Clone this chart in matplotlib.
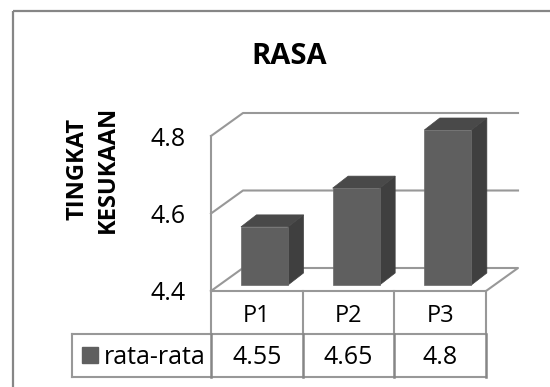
import matplotlib.pyplot as plt
import numpy as np

plt.rcParams['font.family'] = ['Open Sans', 'DejaVu Sans']

categories = ['P1', 'P2', 'P3']
values = [4.55, 4.65, 4.8]
y_ticks = [4.4, 4.6, 4.8]
series_name = 'rata-rata'
title = 'RASA'
y_label = 'TINGKAT\nKESUKAAN'

W, H = 550, 387
X0, X_STEP = 211, 91.67  # pixel of first category edge, pixels per category
Y0, Y_STEP = 291, 387.5  # pixel of the 4.4 line, pixels per unit

fig = plt.figure(figsize=(W / 100, H / 100), dpi=100)
ax = fig.add_axes([0, 0, 1, 1])
ax.set_xlim(-X0 / X_STEP, (W - X0) / X_STEP)
ax.set_ylim(y_ticks[0] - (H - Y0) / Y_STEP, y_ticks[0] + Y0 / Y_STEP)
ax.axis('off')

line_col = '#989898'
n = len(categories)
base = y_ticks[0]
wall_dx, wall_dy = 32 / X_STEP, 23 / Y_STEP

# outer chart frame, runs off the right and bottom of the picture
frame = plt.Rectangle((13 / W, 1 - 11 / H), 1, -1, transform=fig.transFigure,
                      fill=False, ec='#868686', lw=1.6, clip_on=True)
ax.add_patch(frame)

# floor and walls
ax.plot([0, wall_dx, n + wall_dx, n, 0],
        [base, base + wall_dy, base + wall_dy, base, base], color=line_col, lw=1.5, zorder=2)
ax.plot([0, 0], [base, y_ticks[-1]], color=line_col, lw=1.5, zorder=2)
for t in y_ticks[1:]:
    ax.plot([0, wall_dx, n + wall_dx], [t, t + wall_dy, t + wall_dy], color=line_col, lw=1.5, zorder=2)

# 3d bars
bar_x = np.arange(n) + 0.327
bar_w = 0.513
lift = 6 / Y_STEP
dx, dy = 15.5 / X_STEP, 12 / Y_STEP
for i in range(n):
    x1 = bar_x[i]
    x2 = x1 + bar_w
    top = values[i] + lift
    ax.fill([x2, x2 + dx, x2 + dx, x2], [base + lift, base + lift + dy, top + dy, top],
            color='#3f3f3f', lw=0.5, zorder=3)
    ax.fill([x1, x1 + dx, x2 + dx, x2], [top, top + dy, top + dy, top],
            color='#494949', lw=0.5, zorder=3)
ax.bar(bar_x, np.array(values) - base, width=bar_w, bottom=base + lift, align='edge',
       color='#5f5f5f', edgecolor='#6a6a6a', lw=0.5, zorder=4)

ax.text(289 / X_STEP - X0 / X_STEP, base + (Y0 - 57) / Y_STEP, title, fontsize=21, fontweight='bold',
        ha='center', va='center')
ax.text((92.5 - X0) / X_STEP, base + (Y0 - 169) / Y_STEP, y_label, fontsize=17, fontweight='bold',
        rotation=90, ha='center', va='center', multialignment='center', linespacing=1.35)

for t in y_ticks:
    ax.text((186 - X0) / X_STEP, t - 3 / Y_STEP, str(t), fontsize=18, ha='right', va='center')

# data table under the chart
row1 = base - (334 - Y0) / Y_STEP
row2 = base - (377 - Y0) / Y_STEP
left = (72 - X0) / X_STEP
ax.plot([left, n], [row1, row1], color=line_col, lw=1.5)
ax.plot([left, n], [row2, row2], color=line_col, lw=1.5)
ax.plot([left, left], [row1, row2], color=line_col, lw=1.5)
for i in range(n + 1):
    ax.plot([i, i], [base, row1], color=line_col, lw=1.5)
    ax.plot([i, i], [row1, row2], color='#868686', lw=1.8)
for i in range(n):
    ax.text(i + 0.5, (base + row1) / 2 - 3 / Y_STEP, categories[i], fontsize=17, ha='center', va='center')
    ax.text(i + 0.5, (row1 + row2) / 2 - 2 / Y_STEP, str(values[i]), fontsize=18, ha='center', va='center')

key = plt.Rectangle(((82 - X0) / X_STEP, (row1 + row2) / 2 - 8 / Y_STEP), 16 / X_STEP, 16 / Y_STEP,
                    color='#5f5f5f')
ax.add_patch(key)
ax.text((104 - X0) / X_STEP, (row1 + row2) / 2 - 2 / Y_STEP, series_name, fontsize=18, ha='left', va='center')

fig.savefig('out.png', dpi=100)
